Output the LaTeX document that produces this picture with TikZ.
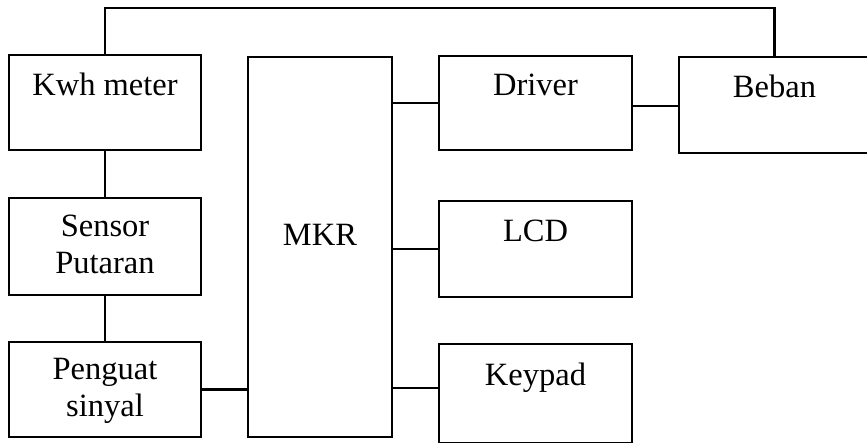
\documentclass[tikz,border=0pt]{standalone}
\usepackage{fontspec}
\setmainfont{Liberation Serif}
\usepackage{tikz}
\usetikzlibrary{positioning, calc}

\begin{document}
\begin{tikzpicture}[x=1pt, y=-1pt,
  blok/.style={draw, line width=2.8pt, inner sep=0pt, minimum width=192pt},
  teks/.style={anchor=base, align=center, font=\fontsize{32.5}{37}\selectfont, inner sep=0pt},
  garis/.style={line width=2.8pt}]
  \useasboundingbox (0,0) rectangle (867,442);
  \node[blok, minimum height=95pt] (kwh) at (105,102.5) {};
  \node[blok, minimum height=97pt] (sensor) at (105,246.5) {};
  \node[blok, minimum height=95pt] (penguat) at (105,389.5) {};
  \node[blok, minimum width=144pt, minimum height=380pt] (mkr) at (320,247) {};
  \node[blok, minimum width=193pt, minimum height=94pt] (driver) at (535.5,103) {};
  \node[blok, minimum width=193pt, minimum height=96pt] (lcd) at (535.5,249) {};
  \node[blok, minimum width=193pt, minimum height=99pt] (keypad) at (535.5,393.5) {};
  \node[blok, minimum width=191pt, minimum height=96pt] (beban) at (774.5,105) {};
  \node[teks] (t-kwh) at ([yshift=-42pt]kwh.north) {Kwh meter};
  \node[teks] (t-sensor) at ([yshift=-77pt]sensor.north) {Sensor\\Putaran};
  \node[teks] (t-penguat) at ([yshift=-76pt]penguat.north) {Penguat\\sinyal};
  \node[teks] (t-mkr) at (320,245) {MKR};
  \node[teks] (t-driver) at ([yshift=-41pt]driver.north) {Driver};
  \node[teks] (t-lcd) at ([yshift=-42pt]lcd.north) {LCD};
  \node[teks] (t-keypad) at ([yshift=-43pt]keypad.north) {Keypad};
  \node[teks] (t-beban) at ([yshift=-42pt]beban.north) {Beban};
  \coordinate (atas) at (440,8);
  \draw[garis] (kwh.north) |- (atas) -| (beban.north);
  \draw[garis] (kwh.south) -- (sensor.north);
  \draw[garis] (sensor.south) -- (penguat.north);
  \draw[garis] (penguat.east) -- (penguat.east -| mkr.west);
  \draw[garis] (driver.west -| mkr.east) -- (driver.west);
  \draw[garis] (lcd.west -| mkr.east) -- (lcd.west);
  \draw[garis] ([yshift=5.5pt]keypad.west -| mkr.east) -- ([yshift=5.5pt]keypad.west);
  \draw[garis] ([yshift=-3pt]driver.east) -- ([yshift=-3pt]driver.east -| beban.west);
\end{tikzpicture}
\end{document}
